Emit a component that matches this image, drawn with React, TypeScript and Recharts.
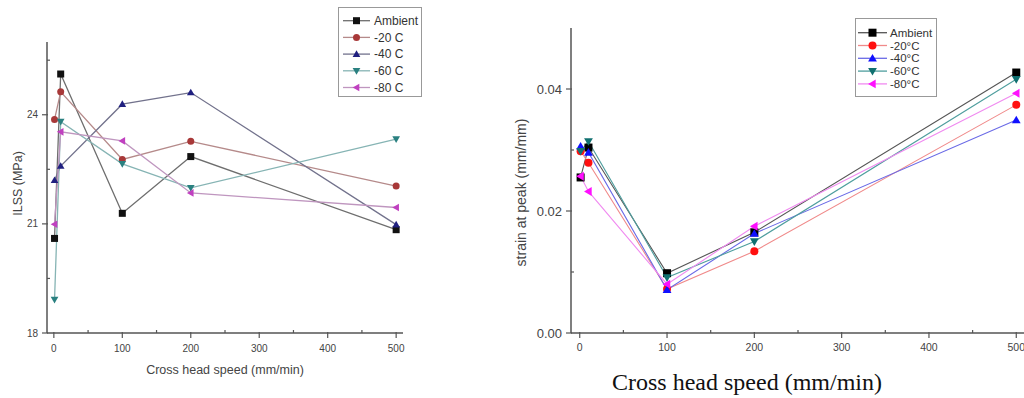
import React from 'react';
import { LineChart, Line, XAxis, YAxis, Legend } from 'recharts';

// ---------- data ----------
const speeds = [1, 10, 100, 200, 500];

const ilssNames = ['Ambient', '-20 C', '-40 C', '-60 C', '-80 C'];
const ilssAmbient = [20.6, 25.12, 21.29, 22.85, 20.84];
const ilssM20 = [23.87, 24.63, 22.77, 23.27, 22.04];
const ilssM40 = [22.2, 22.59, 24.29, 24.61, 20.98];
const ilssM60 = [18.92, 23.81, 22.65, 21.99, 23.33];
const ilssM80 = [20.99, 23.53, 23.28, 21.85, 21.45];

const strainNames = ['Ambient', '-20°C', '-40°C', '-60°C', '-80°C'];
const strainAmbient = [0.0255, 0.0304, 0.0098, 0.0165, 0.0427];
const strainM20 = [0.0298, 0.0279, 0.0072, 0.0134, 0.0374];
const strainM40 = [0.0306, 0.0296, 0.0071, 0.0163, 0.0349];
const strainM60 = [0.0298, 0.0314, 0.0091, 0.015, 0.0416];
const strainM80 = [0.0257, 0.0232, 0.008, 0.0175, 0.0393];

const xTicks = [0, 50, 100, 150, 200, 250, 300, 350, 400, 450, 500];
const xLabelTicks = [0, 100, 200, 300, 400, 500];
const ilssTicks = [18, 19.5, 21, 22.5, 24, 25.5];
const ilssLabelTicks = [18, 21, 24];
const strainTicks = [0, 0.01, 0.02, 0.03, 0.04];
const strainLabelTicks = [0, 0.02, 0.04];

const keys = ['ambient', 'm20', 'm40', 'm60', 'm80'];

const ilssData = speeds.map((s, i) => ({
  speed: s,
  ambient: ilssAmbient[i],
  m20: ilssM20[i],
  m40: ilssM40[i],
  m60: ilssM60[i],
  m80: ilssM80[i],
}));

const strainData = speeds.map((s, i) => ({
  speed: s,
  ambient: strainAmbient[i],
  m20: strainM20[i],
  m40: strainM40[i],
  m60: strainM60[i],
  m80: strainM80[i],
}));

// ---------- styles ----------
type Shape = 'square' | 'circle' | 'up' | 'down' | 'left';
const shapes: Shape[] = ['square', 'circle', 'up', 'down', 'left'];

const AXIS = '#555';
const TXT = '#444';
const SANS = '"Liberation Sans", Arial, sans-serif';
const SERIF = '"Liberation Serif", "Times New Roman", serif';

const ilssLineColors = ['#6e6e6e', '#b58a8a', '#72728c', '#86b4b4', '#bf96bf'];
const ilssMarkColors = ['#111111', '#a83838', '#202080', '#2a8080', '#c040c0'];
const strainLineColors = ['#555555', '#f08a8a', '#6a6ae6', '#4f9e9e', '#f08af0'];
const strainMarkColors = ['#000000', '#ff1010', '#1010ff', '#107070', '#ff10ff'];

function Marker({ shape, cx, cy, size, fill }: { shape: Shape; cx: number; cy: number; size: number; fill: string }) {
  const s = size / 2;
  if (cx == null || cy == null) return null;
  switch (shape) {
    case 'square':
      return <rect x={cx - s} y={cy - s} width={size} height={size} fill={fill} />;
    case 'circle':
      return <circle cx={cx} cy={cy} r={s} fill={fill} />;
    case 'up':
      return <polygon points={`${cx},${cy - s * 1.1} ${cx + s * 1.1},${cy + s * 0.8} ${cx - s * 1.1},${cy + s * 0.8}`} fill={fill} />;
    case 'down':
      return <polygon points={`${cx},${cy + s * 1.1} ${cx + s * 1.1},${cy - s * 0.8} ${cx - s * 1.1},${cy - s * 0.8}`} fill={fill} />;
    default:
      return <polygon points={`${cx - s * 1.1},${cy} ${cx + s * 0.8},${cy - s * 1.1} ${cx + s * 0.8},${cy + s * 1.1}`} fill={fill} />;
  }
}

const makeXTick = (baseline: number, fontSize: number) => (props: any) => {
  const { x, y, payload } = props;
  const v = payload.value;
  const major = xLabelTicks.includes(v);
  return (
    <g>
      <line x1={x} x2={x} y1={major ? y - 1 : y} y2={major ? y + 5 : y - 3} stroke={AXIS} strokeWidth={1.2} />
      {major && (
        <text x={x} y={y + baseline} textAnchor="middle" fontSize={fontSize} fill={TXT} fontFamily={SANS}>
          {v}
        </text>
      )}
    </g>
  );
};

const makeYTick = (labels: number[], fmt: (v: number) => string, fontSize: number) => (props: any) => {
  const { x, y, payload } = props;
  const v = payload.value;
  const major = labels.some((l) => Math.abs(l - v) < 1e-9);
  return (
    <g>
      <line x1={major ? x - 5 : x} x2={major ? x + 1 : x + 3} y1={y} y2={y} stroke={AXIS} strokeWidth={1.2} />
      {major && (
        <text x={x - 9} y={y + fontSize * 0.36} textAnchor="end" fontSize={fontSize} fill={TXT} fontFamily={SANS}>
          {fmt(v)}
        </text>
      )}
    </g>
  );
};

function LegendBox({
  names, lineColors, markColors, width, height, rowStart, rowGap, lineX1, lineX2, textX, fontSize, markSize,
}: any) {
  return (
    <svg width={width} height={height} style={{ display: 'block' }}>
      <rect x={0.5} y={0.5} width={width - 1} height={height - 1} fill="#fff" stroke="#999" strokeWidth={1} />
      {names.map((n: string, i: number) => {
        const cy = rowStart + i * rowGap;
        const cx = (lineX1 + lineX2) / 2;
        return (
          <g key={n}>
            <line x1={lineX1} x2={lineX2} y1={cy} y2={cy} stroke={lineColors[i]} strokeWidth={1.3} />
            <Marker shape={shapes[i]} cx={cx} cy={cy} size={markSize} fill={markColors[i]} />
            <text x={textX} y={cy + fontSize * 0.36} fontSize={fontSize} fill="#333" fontFamily={SANS}>
              {n}
            </text>
          </g>
        );
      })}
    </svg>
  );
}

const makeDot = (shape: Shape, fill: string, size: number, k: string) => (p: any) => (
  <Marker key={`${k}-${p.index}`} shape={shape} cx={p.cx} cy={p.cy} size={size} fill={fill} />
);

function IlssChart() {
  return (
    <LineChart width={420} height={398} data={ilssData} margin={{ top: 42, right: 17, bottom: 0, left: 0 }}>
      <XAxis
        dataKey="speed"
        type="number"
        domain={[-10, 510]}
        ticks={xTicks}
        interval={0}
        tickSize={0}
        tickMargin={0}
        tickLine={false}
        height={65}
        axisLine={{ stroke: AXIS, strokeWidth: 1.5 }}
        tick={makeXTick(18.5, 10)}
        label={(p: any) => {
          const vb = p.viewBox;
          return (
            <text x={vb.x + vb.width / 2} y={vb.y + 41} textAnchor="middle" fontSize={12.5} fill={TXT} fontFamily={SANS}>
              Cross head speed (mm/min)
            </text>
          );
        }}
      />
      <YAxis
        type="number"
        domain={[18, 26]}
        ticks={ilssTicks}
        interval={0}
        width={47}
        tickSize={0}
        tickMargin={0}
        tickLine={false}
        axisLine={{ stroke: AXIS, strokeWidth: 1.5 }}
        tick={makeYTick(ilssLabelTicks, (v) => String(v), 10)}
        label={(p: any) => {
          const vb = p.viewBox;
          const cx = vb.x + 18;
          const cy = vb.y + vb.height / 2 - 4;
          return (
            <text x={cx} y={cy} transform={`rotate(-90 ${cx} ${cy})`} textAnchor="middle" dominantBaseline="central" fontSize={12.5} fill={TXT} fontFamily={SANS}>
              ILSS (MPa)
            </text>
          );
        }}
      />
      <Legend
        layout="vertical"
        align="center"
        verticalAlign="middle"
        wrapperStyle={{ position: 'absolute', left: 338, top: 7, width: 84, height: 90 }}
        content={() => (
          <LegendBox
            names={ilssNames}
            lineColors={ilssLineColors}
            markColors={ilssMarkColors}
            width={84}
            height={90}
            rowStart={13.7}
            rowGap={16.7}
            lineX1={5}
            lineX2={32}
            textX={36}
            fontSize={12}
            markSize={7}
          />
        )}
      />
      {keys.map((k, i) => (
        <Line
          key={k}
          dataKey={k}
          name={ilssNames[i]}
          stroke={ilssLineColors[i]}
          strokeWidth={1.3}
          isAnimationActive={false}
          activeDot={false}
          dot={makeDot(shapes[i], ilssMarkColors[i], 7, k)}
        />
      ))}
    </LineChart>
  );
}

function StrainChart() {
  return (
    <LineChart width={530} height={398} data={strainData} margin={{ top: 28, right: 5, bottom: 0, left: 0 }}>
      <XAxis
        dataKey="speed"
        type="number"
        domain={[-10, 510]}
        ticks={xTicks}
        interval={0}
        tickSize={0}
        tickMargin={0}
        tickLine={false}
        height={65}
        axisLine={{ stroke: AXIS, strokeWidth: 1.5 }}
        tick={makeXTick(17.5, 10.5)}
        label={(p: any) => {
          const vb = p.viewBox;
          return (
            <text x={vb.x + 176} y={vb.y + 57} textAnchor="middle" fontSize={24} fill="#111" fontFamily={SERIF}>
              Cross head speed (mm/min)
            </text>
          );
        }}
      />
      <YAxis
        type="number"
        domain={[0, 0.05]}
        ticks={strainTicks}
        interval={0}
        width={71}
        tickSize={0}
        tickMargin={0}
        tickLine={false}
        axisLine={{ stroke: AXIS, strokeWidth: 1.5 }}
        tick={makeYTick(strainLabelTicks, (v) => v.toFixed(2), 13)}
        label={(p: any) => {
          const vb = p.viewBox;
          const cx = vb.x + 21;
          const cy = vb.y + vb.height / 2 + 12;
          return (
            <text x={cx} y={cy} transform={`rotate(-90 ${cx} ${cy})`} textAnchor="middle" dominantBaseline="central" fontSize={14} fill={TXT} fontFamily={SANS}>
              strain at peak (mm/mm)
            </text>
          );
        }}
      />
      <Legend
        layout="vertical"
        align="center"
        verticalAlign="middle"
        wrapperStyle={{ position: 'absolute', left: 355, top: 18, width: 82, height: 79 }}
        content={() => (
          <LegendBox
            names={strainNames}
            lineColors={strainLineColors}
            markColors={strainMarkColors}
            width={82}
            height={79}
            rowStart={14.7}
            rowGap={12.8}
            lineX1={3}
            lineX2={32}
            textX={35}
            fontSize={11.5}
            markSize={8}
          />
        )}
      />
      {keys.map((k, i) => (
        <Line
          key={k}
          dataKey={k}
          name={strainNames[i]}
          stroke={strainLineColors[i]}
          strokeWidth={1.1}
          isAnimationActive={false}
          activeDot={false}
          dot={makeDot(shapes[i], strainMarkColors[i], 8, k)}
        />
      ))}
    </LineChart>
  );
}

export default function App() {
  return (
    <div style={{ position: 'absolute', left: 0, top: 0, width: 1024, height: 398, overflow: 'hidden', background: '#fff' }}>
      <div style={{ position: 'absolute', left: 0, top: 0 }}>
        <IlssChart />
      </div>
      <div style={{ position: 'absolute', left: 500, top: 0 }}>
        <StrainChart />
      </div>
    </div>
  );
}
